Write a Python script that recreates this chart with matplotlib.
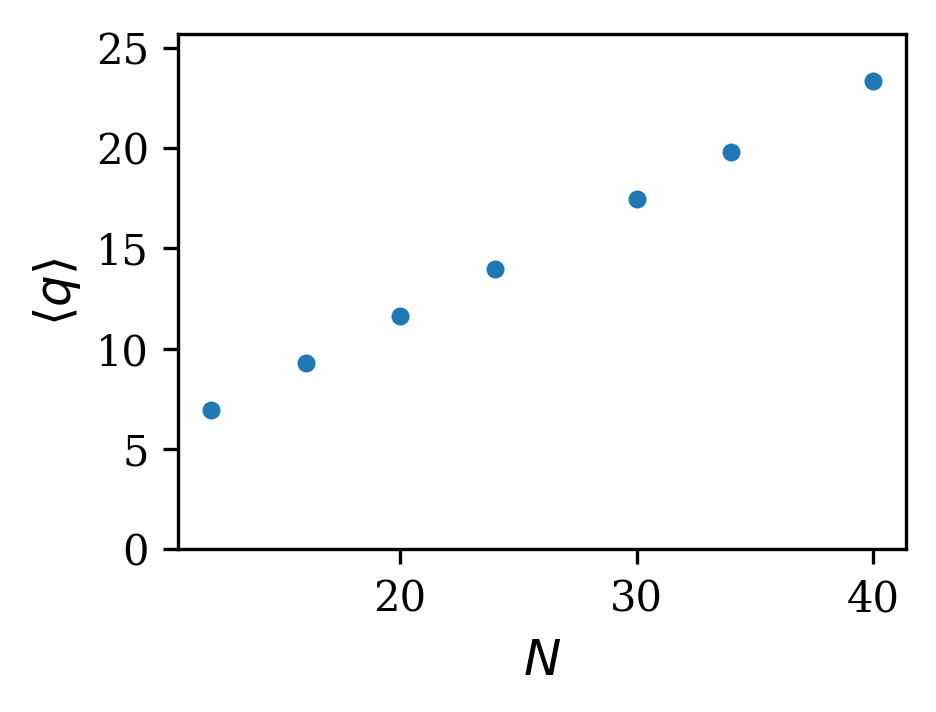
import matplotlib
matplotlib.use("Agg")
import matplotlib.pyplot as plt

plt.rcParams['font.family'] = 'DejaVu Serif'
plt.rcParams['mathtext.fontset'] = 'dejavusans'
plt.rcParams['font.size'] = 10

N = [12, 16, 20, 24, 30, 34, 40]
q_mean = [6.94, 9.28, 11.63, 13.97, 17.47, 19.81, 23.35]

fig = plt.figure(figsize=(936/300, 712/300), dpi=300)
ax = fig.add_axes([178/936, 1-549/712, (906-178)/936, (549-34)/712])
ax.scatter(N, q_mean, s=11, color='#1f77b4')
ax.set_ylim(0, 25.7)
ax.set_xlabel(r'$N$', fontsize=12)
ax.set_ylabel(r'$\langle q \rangle$', fontsize=12, labelpad=3)
fig.savefig('out.png', dpi=300)
